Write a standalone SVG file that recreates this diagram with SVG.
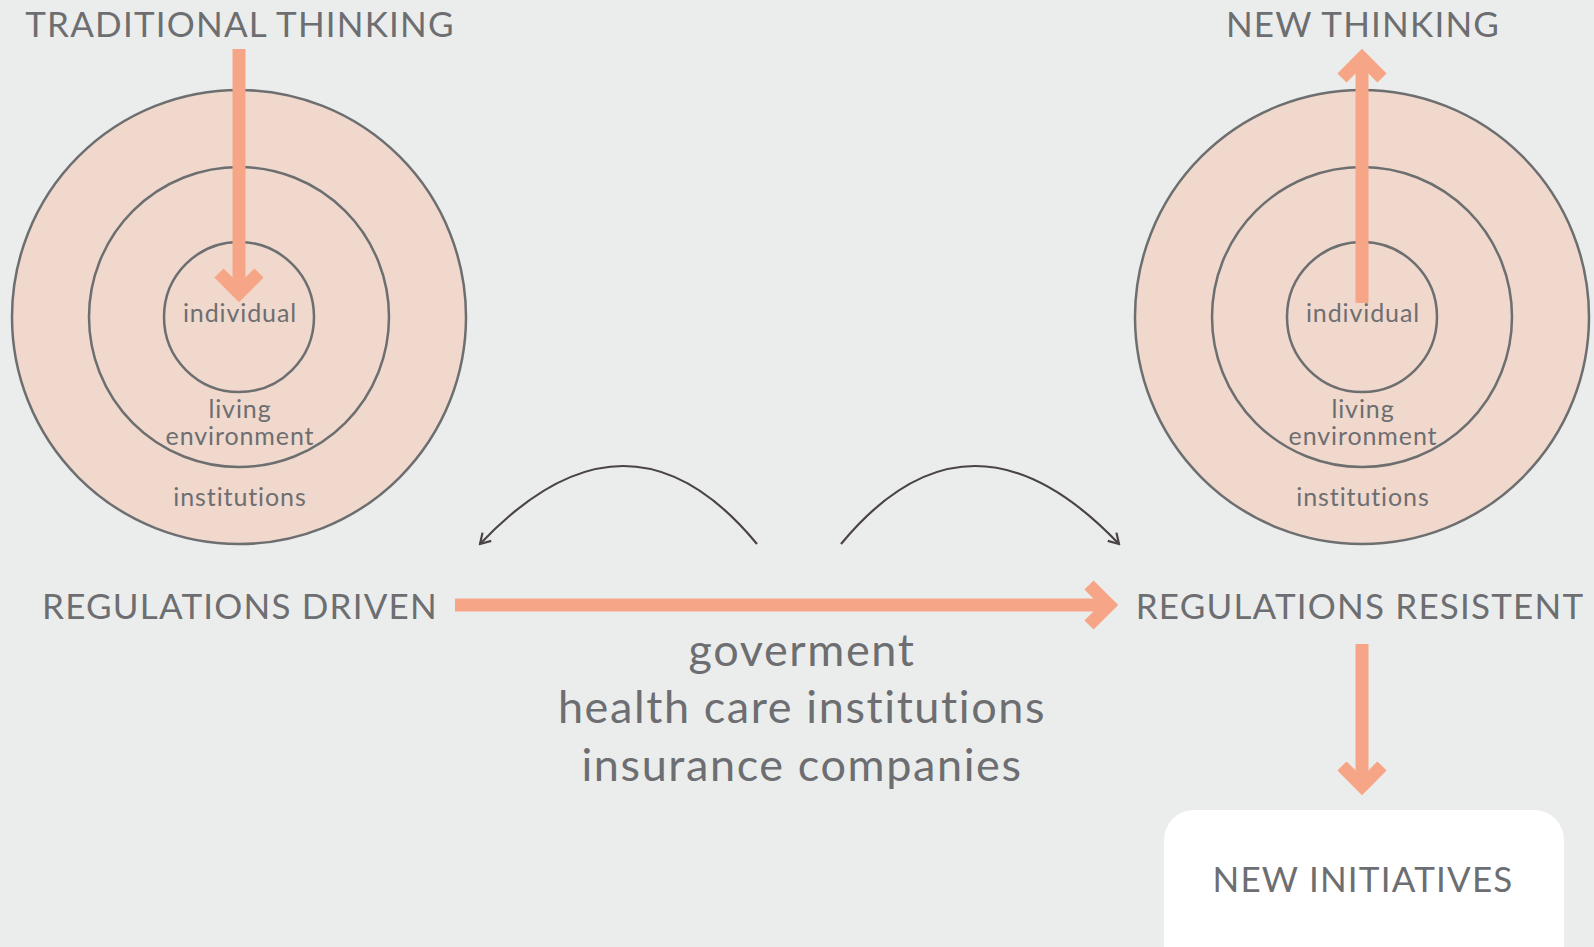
<svg xmlns="http://www.w3.org/2000/svg" width="1594" height="947" viewBox="0 0 1594 947">
<defs>
<style>
.bg{fill:#ebedec}
.ring{fill:#f0d8cc;stroke:#6d6e70;stroke-width:2.5}
.ring2{fill:none;stroke:#6d6e70;stroke-width:2.5}
.big{stroke:#f7a587;stroke-width:13;fill:none;stroke-linejoin:miter;stroke-miterlimit:10}
.curve{stroke:#4a4444;stroke-width:2.2;fill:none}
.t{font-family:Lato,"Open Sans",sans-serif;fill:#6d6e71;text-anchor:middle}
.title{font-size:35px;letter-spacing:1.2px}
.lab{font-size:25px;letter-spacing:0.9px}
.mid{font-size:45px;letter-spacing:1.6px}
</style>
<marker id="open" viewBox="-12 -8 14 16" markerWidth="14" markerHeight="16" refX="0" refY="0" orient="auto" markerUnits="userSpaceOnUse">
<path d="M-10,-6 L0,0 L-10,6" fill="none" stroke="#4a4444" stroke-width="2.2"/>
</marker>
</defs>
<rect class="bg" x="0" y="0" width="1594" height="947"/>

<g id="traditional">
<circle class="ring" cx="239" cy="317" r="227"/>
<circle class="ring2" cx="239" cy="317" r="150"/>
<circle class="ring2" cx="239" cy="317" r="75"/>
<text class="t title" x="240" y="37">TRADITIONAL THINKING</text>
<text class="t lab" x="240" y="322">individual</text>
<text class="t lab" x="240" y="418">living</text>
<text class="t lab" x="240" y="445">environment</text>
<text class="t lab" x="240" y="506">institutions</text>
</g>

<g id="new-thinking">
<circle class="ring" cx="1362" cy="317" r="227"/>
<circle class="ring2" cx="1362" cy="317" r="150"/>
<circle class="ring2" cx="1362" cy="317" r="75"/>
<text class="t title" x="1363" y="37">NEW THINKING</text>
<text class="t lab" x="1363" y="322">individual</text>
<text class="t lab" x="1363" y="418">living</text>
<text class="t lab" x="1363" y="445">environment</text>
<text class="t lab" x="1363" y="506">institutions</text>
</g>

<g id="regulations-driven">
<text class="t title" x="240" y="619">REGULATIONS DRIVEN</text>
</g>
<g id="regulations-resistent">
<text class="t title" x="1360" y="619">REGULATIONS RESISTENT</text>
</g>
<g id="actors">
<text class="t mid" x="802" y="666">goverment</text>
<text class="t mid" x="802" y="723">health care institutions</text>
<text class="t mid" x="802" y="781">insurance companies</text>
</g>
<g id="new-initiatives">
<rect x="1164" y="810" width="400" height="170" rx="30" ry="30" fill="#ffffff"/>
<text class="t title" x="1363" y="892">NEW INITIATIVES</text>
</g>

<g id="connectors">
<line class="big" x1="239" y1="49" x2="239" y2="291"/>
<polyline class="big" points="219,273 239,293 259,273"/>
<line class="big" x1="1362" y1="303" x2="1362" y2="61"/>
<polyline class="big" points="1342,78 1362,58 1382,78"/>
<line class="big" x1="455" y1="605" x2="1106" y2="605"/>
<polyline class="big" points="1089,585 1109,605 1089,625"/>
<line class="big" x1="1362" y1="644" x2="1362" y2="784"/>
<polyline class="big" points="1342,766 1362,786 1382,766"/>
<path class="curve" d="M757,544 Q628,388 480,544" marker-end="url(#open)"/>
<path class="curve" d="M841,544 Q970,388 1119,544" marker-end="url(#open)"/>
</g>
</svg>
